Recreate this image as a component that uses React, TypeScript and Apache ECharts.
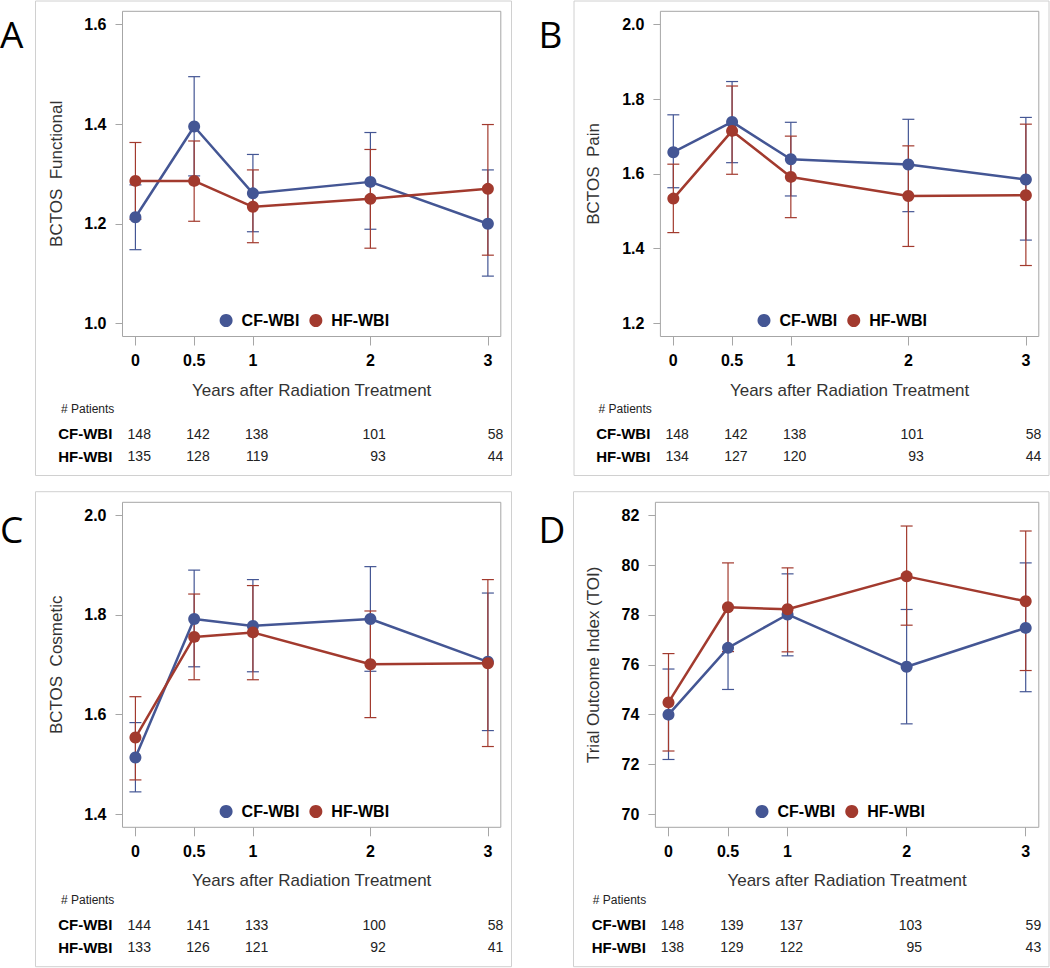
import React, { useEffect, useRef } from 'react';
import * as echarts from 'echarts';

// ---------- data ----------
const YEARS = [0, 0.5, 1, 2, 3];
const X_TICK_LABELS = ['0', '0.5', '1', '2', '3'];
const SERIES_NAMES = ['CF-WBI', 'HF-WBI'];

// Panel A: BCTOS Functional
const A_CF = [1.213, 1.395, 1.261, 1.284, 1.2];
const A_CF_LO = [1.148, 1.296, 1.184, 1.189, 1.095];
const A_CF_HI = [1.278, 1.495, 1.339, 1.383, 1.308];
const A_HF = [1.286, 1.286, 1.234, 1.25, 1.27];
const A_HF_LO = [1.209, 1.205, 1.162, 1.151, 1.137];
const A_HF_HI = [1.363, 1.366, 1.308, 1.349, 1.399];
const A_N_CF = [148, 142, 138, 101, 58];
const A_N_HF = [135, 128, 119, 93, 44];
const A_Y_TICKS = [1.0, 1.2, 1.4, 1.6];

// Panel B: BCTOS Pain
const B_CF = [1.658, 1.739, 1.639, 1.625, 1.585];
const B_CF_LO = [1.563, 1.63, 1.541, 1.499, 1.423];
const B_CF_HI = [1.758, 1.847, 1.738, 1.746, 1.751];
const B_HF = [1.534, 1.715, 1.592, 1.541, 1.543];
const B_HF_LO = [1.443, 1.599, 1.483, 1.406, 1.355];
const B_HF_HI = [1.626, 1.835, 1.701, 1.675, 1.733];
const B_N_CF = [148, 142, 138, 101, 58];
const B_N_HF = [134, 127, 120, 93, 44];
const B_Y_TICKS = [1.2, 1.4, 1.6, 1.8, 2.0];

// Panel C: BCTOS Cosmetic
const C_CF = [1.514, 1.792, 1.778, 1.792, 1.706];
const C_CF_LO = [1.445, 1.696, 1.686, 1.687, 1.568];
const C_CF_HI = [1.584, 1.89, 1.871, 1.897, 1.844];
const C_HF = [1.554, 1.756, 1.765, 1.701, 1.703];
const C_HF_LO = [1.469, 1.67, 1.67, 1.594, 1.536];
const C_HF_HI = [1.636, 1.842, 1.859, 1.808, 1.871];
const C_N_CF = [144, 141, 133, 100, 58];
const C_N_HF = [133, 126, 121, 92, 41];
const C_Y_TICKS = [1.4, 1.6, 1.8, 2.0];

// Panel D: Trial Outcome Index
const D_CF = [74.0, 76.68, 78.02, 75.92, 77.48];
const D_CF_LO = [72.2, 75.01, 76.36, 73.63, 74.92];
const D_CF_HI = [75.83, 78.35, 79.65, 78.22, 80.09];
const D_HF = [74.49, 78.31, 78.23, 79.55, 78.55];
const D_HF_LO = [72.54, 76.53, 76.52, 77.59, 75.77];
const D_HF_HI = [76.45, 80.09, 79.89, 81.57, 81.37];
const D_N_CF = [148, 139, 137, 103, 59];
const D_N_HF = [138, 129, 122, 95, 43];
const D_Y_TICKS = [70, 72, 74, 76, 78, 80, 82];

// ---------- styling / layout ----------
const BLUE = '#445694';
const RED = '#A23A2E';
const FONT = '"Liberation Sans", Arial, sans-serif';
const X_MIN = -0.11;
const X_MAX = 3.11;

const panels = [
  {
    letter: 'A', yTitle: 'BCTOS  Functional', yTicks: A_Y_TICKS, dec: 1, yMin: 0.9739, yMax: 1.6261,
    cf: A_CF, cfLo: A_CF_LO, cfHi: A_CF_HI, hf: A_HF, hfLo: A_HF_LO, hfHi: A_HF_HI, nCf: A_N_CF, nHf: A_N_HF,
    grid: { left: 122.5, top: 11.3, width: 378.3, height: 325.2 }, yNameGap: 58,
    legend: { left: 219.6, top: 312.5 }, frame: { x: 35.5, y: 1, w: 476, h: 474.5 },
    letterPos: { x: 0, y: 33.5 }, rowLabelX: 58.2, patientsX: 61, rowsY: [409, 433.5, 456],
  },
  {
    letter: 'B', yTitle: 'BCTOS  Pain', yTicks: B_Y_TICKS, dec: 1, yMin: 1.1652, yMax: 2.0348,
    cf: B_CF, cfLo: B_CF_LO, cfHi: B_CF_HI, hf: B_HF, hfLo: B_HF_LO, hfHi: B_HF_HI, nCf: B_N_CF, nHf: B_N_HF,
    grid: { left: 660.4, top: 11.3, width: 378.4, height: 325.2 }, yNameGap: 58,
    legend: { left: 757.5, top: 312.5 }, frame: { x: 574, y: 1, w: 475, h: 474.5 },
    letterPos: { x: 538.6, y: 33.5 }, rowLabelX: 596.2, patientsX: 598.5, rowsY: [409, 433.5, 456],
  },
  {
    letter: 'C', yTitle: 'BCTOS  Cosmetic', yTicks: C_Y_TICKS, dec: 1, yMin: 1.3739, yMax: 2.0261,
    cf: C_CF, cfLo: C_CF_LO, cfHi: C_CF_HI, hf: C_HF, hfLo: C_HF_LO, hfHi: C_HF_HI, nCf: C_N_CF, nHf: C_N_HF,
    grid: { left: 122.5, top: 502.3, width: 378.3, height: 325 }, yNameGap: 58,
    legend: { left: 219.6, top: 803.5 }, frame: { x: 35.5, y: 491.7, w: 476, h: 475 },
    letterPos: { x: 0, y: 528.3 }, rowLabelX: 58.2, patientsX: 61, rowsY: [900, 924.5, 947],
  },
  {
    letter: 'D', yTitle: 'Trial Outcome Index (TOI)', yTicks: D_Y_TICKS, dec: 0, yMin: 69.478, yMax: 82.522,
    cf: D_CF, cfLo: D_CF_LO, cfHi: D_CF_HI, hf: D_HF, hfLo: D_HF_LO, hfHi: D_HF_HI, nCf: D_N_CF, nHf: D_N_HF,
    grid: { left: 655.4, top: 502.3, width: 383.4, height: 325 }, yNameGap: 53,
    legend: { left: 755.5, top: 803.5 }, frame: { x: 573.5, y: 491.7, w: 475.5, h: 475 },
    letterPos: { x: 538.6, y: 528.3 }, rowLabelX: 591.7, patientsX: 592.8, rowsY: [900, 924.5, 947],
  },
];

const idxOf = (v: number) => YEARS.findIndex((y) => Math.abs(y - v) < 1e-6);

function errorBarRender(color: string) {
  return (params: any, api: any) => {
    const x = api.value(0);
    const pLo = api.coord([x, api.value(1)]);
    const pHi = api.coord([x, api.value(2)]);
    const hw = 6;
    const style = { stroke: color, lineWidth: 1.2, fill: null };
    return {
      type: 'group',
      children: [
        { type: 'line', shape: { x1: pLo[0], y1: pLo[1], x2: pHi[0], y2: pHi[1] }, style },
        { type: 'line', shape: { x1: pLo[0] - hw, y1: pLo[1], x2: pLo[0] + hw, y2: pLo[1] }, style },
        { type: 'line', shape: { x1: pHi[0] - hw, y1: pHi[1], x2: pHi[0] + hw, y2: pHi[1] }, style },
      ],
    };
  };
}

// Patient-count row: text right-aligned just right of each year tick, placed below the grid.
function countRender(dy: number) {
  return (params: any, api: any) => {
    const p = api.coord([api.value(0), api.value(1)]);
    return {
      type: 'text',
      x: p[0] + 15.5,
      y: p[1] + dy,
      style: {
        text: String(api.value(2)), fill: '#222', font: '14px ' + FONT,
        align: 'right', verticalAlign: 'middle',
      },
    };
  };
}

function buildOption() {
  const grid: any[] = [];
  const xAxis: any[] = [];
  const yAxis: any[] = [];
  const series: any[] = [];
  const legend: any[] = [];
  const graphic: any[] = [];

  panels.forEach((p, i) => {
    grid.push({
      ...p.grid, show: true, borderColor: '#A6A6A6', borderWidth: 1, backgroundColor: 'transparent',
    });
    const gridBottom = p.grid.top + p.grid.height;

    xAxis.push({
      gridIndex: i, type: 'value', min: X_MIN, max: X_MAX, position: 'bottom',
      axisLine: { show: false, onZero: false },
      axisTick: { show: true, customValues: YEARS, length: 9, lineStyle: { color: '#A6A6A6' } },
      axisLabel: {
        customValues: YEARS, margin: 16, color: '#000', fontWeight: 'bold', fontSize: 16, fontFamily: FONT,
        formatter: (v: number) => X_TICK_LABELS[idxOf(v)] ?? '',
      },
      splitLine: { show: false },
      name: 'Years after Radiation Treatment', nameLocation: 'middle', nameGap: 45,
      nameTextStyle: { fontSize: 17, color: '#333', fontFamily: FONT },
    });

    yAxis.push({
      gridIndex: i, type: 'value', min: p.yMin, max: p.yMax, position: 'left',
      axisLine: { show: false, onZero: false },
      axisTick: { show: true, inside: false, customValues: p.yTicks, length: 7, lineStyle: { color: '#A6A6A6' } },
      axisLabel: {
        customValues: p.yTicks, margin: 16, color: '#000', fontWeight: 'bold', fontSize: 16, fontFamily: FONT,
        formatter: (v: number) => v.toFixed(p.dec),
      },
      splitLine: { show: false },
      name: p.yTitle, nameLocation: 'middle', nameGap: p.yNameGap, nameRotate: 90,
      nameTextStyle: { fontSize: 17, color: '#333', fontFamily: FONT },
    });

    const groups = [
      { name: SERIES_NAMES[0], color: BLUE, m: p.cf, lo: p.cfLo, hi: p.cfHi },
      { name: SERIES_NAMES[1], color: RED, m: p.hf, lo: p.hfLo, hi: p.hfHi },
    ];
    groups.forEach((g) => {
      series.push({
        type: 'custom', name: g.name + ' CI', xAxisIndex: i, yAxisIndex: i,
        data: YEARS.map((x, k) => [x, g.lo[k], g.hi[k]]),
        encode: { x: 0, y: [1, 2] },
        renderItem: errorBarRender(g.color), z: 2, silent: true,
      });
    });
    groups.forEach((g) => {
      series.push({
        type: 'line', name: g.name, xAxisIndex: i, yAxisIndex: i,
        data: YEARS.map((x, k) => [x, g.m[k]]),
        symbol: 'circle', symbolSize: 12, showSymbol: true,
        lineStyle: { color: g.color, width: 2.5 }, itemStyle: { color: g.color }, z: 3,
      });
    });
    [p.nCf, p.nHf].forEach((counts, r) => {
      series.push({
        type: 'custom', name: SERIES_NAMES[r] + ' N', xAxisIndex: i, yAxisIndex: i,
        data: YEARS.map((x, k) => [x, p.yMin, counts[k]]),
        encode: { x: 0, y: 1 }, clip: false, silent: true,
        renderItem: countRender(p.rowsY[r + 1] - gridBottom),
      });
    });

    legend.push({
      left: p.legend.left, top: p.legend.top, orient: 'horizontal', padding: 0,
      itemWidth: 21, itemHeight: 13, itemGap: 10,
      data: SERIES_NAMES.map((n) => ({ name: n, icon: 'circle' })),
      textStyle: { fontSize: 16, fontWeight: 'bold', color: '#000', fontFamily: FONT },
      selectedMode: false,
    });

    graphic.push({
      type: 'rect', silent: true, z: 0,
      shape: { x: p.frame.x, y: p.frame.y, width: p.frame.w, height: p.frame.h },
      style: { fill: 'none', stroke: '#D0D0D0', lineWidth: 1 },
    });
    graphic.push({
      type: 'text', x: p.letterPos.x, y: p.letterPos.y, silent: true,
      style: { text: p.letter, fill: '#000', font: '37px "Open Sans", "Noto Sans", sans-serif', align: 'left', verticalAlign: 'middle' },
    });
    graphic.push({
      type: 'text', x: p.patientsX, y: p.rowsY[0], silent: true,
      style: { text: '# Patients', fill: '#222', font: '12px ' + FONT, align: 'left', verticalAlign: 'middle' },
    });
    SERIES_NAMES.forEach((n, r) => {
      graphic.push({
        type: 'text', x: p.rowLabelX, y: p.rowsY[r + 1], silent: true,
        style: { text: n, fill: '#000', font: 'bold 15px ' + FONT, align: 'left', verticalAlign: 'middle' },
      });
    });
  });

  return { animation: false, backgroundColor: '#fff', grid, xAxis, yAxis, series, legend, graphic };
}

export default function App() {
  const ref = useRef<HTMLDivElement>(null);
  useEffect(() => {
    if (!ref.current) return;
    const chart = echarts.init(ref.current, undefined, { renderer: 'svg' });
    chart.setOption(buildOption() as any);
    return () => chart.dispose();
  }, []);
  return (
    <div
      ref={ref}
      style={{ position: 'absolute', left: 0, top: 0, width: 1050, height: 968, background: '#fff' }}
    />
  );
}
